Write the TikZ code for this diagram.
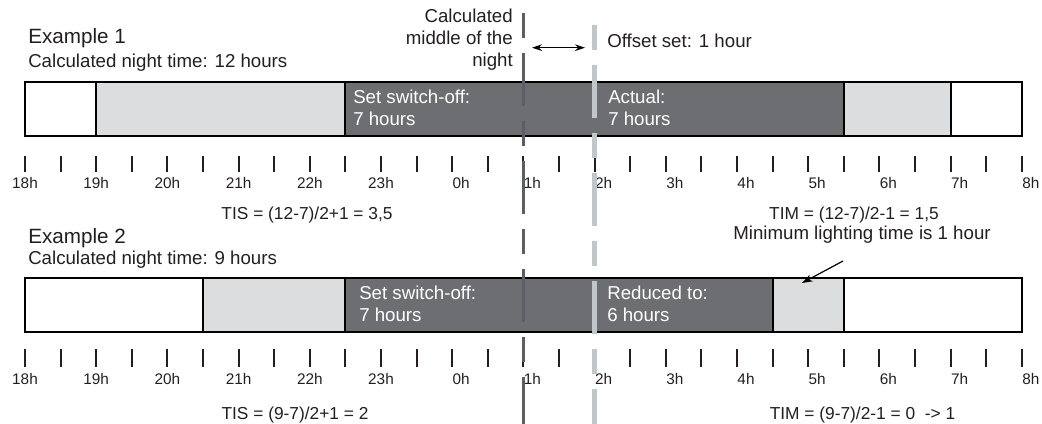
\documentclass[tikz,border=0pt]{standalone}
\usepackage{fontspec}
\setmainfont{Liberation Sans}
\usetikzlibrary{arrows.meta}
\definecolor{barDark}{RGB}{109,110,114}
\definecolor{barLight}{RGB}{220,221,223}
\definecolor{lineMid}{RGB}{92,93,102}
\definecolor{lineOff}{RGB}{192,199,202}
\definecolor{ink}{RGB}{35,31,32}
\tikzset{
  txt/.style={inner sep=0pt, text=ink, font=\fontsize{14}{16.5}\selectfont},
  bigtxt/.style={inner sep=0pt, text=ink, anchor=west, font=\fontsize{15.5}{18}\selectfont},
  intxt/.style={inner sep=0pt, text=white, align=left, anchor=west, font=\fontsize{14}{16.7}\selectfont},
  hourlab/.style={inner sep=0pt, text=ink, font=\fontsize{11.5}{13}\selectfont},
  formula/.style={inner sep=0pt, text=ink, font=\fontsize{13}{15}\selectfont},
  seg/.style={draw=black, line width=1.5pt},
  tickmark/.style={draw=ink, line width=1.4pt},
  dashpat/.style={dash pattern=on 18.75pt off 11.25pt on 39.75pt off 11.25pt},
}

\begin{document}
\begin{tikzpicture}[x=0.75pt, y=-0.75pt]
  \useasboundingbox (0,0) rectangle (1042,424);

  \begin{scope}[shift={(25,0)}, x=53.4pt]
    \foreach \a/\b/\c in {0/1/white, 1/4.5/barLight, 4.5/11.5/barDark, 11.5/13/barLight, 13/14/white}
      \draw[seg, fill=\c] (\a,82) rectangle (\b,136);
    \foreach \a/\b/\c in {0/2.5/white, 2.5/4.5/barLight, 4.5/10.5/barDark, 10.5/11.5/barLight, 11.5/14/white}
      \draw[seg, fill=\c] (\a,278) rectangle (\b,332);

    \foreach \i in {0,...,28} {
      \draw[tickmark] (\i/2,156) -- (\i/2,172);
      \draw[tickmark] (\i/2,349) -- (\i/2,367);
    }
    \foreach \i in {0,...,14} {
      \pgfmathtruncatemacro\hr{mod(18+\i,24)}
      \pgfmathsetmacro\dx{\hr<10 ? 6.75 : 0}
      \node[hourlab, xshift=\dx pt] (hourA\i) at (\i,183) {\hr h};
      \node[hourlab, xshift=\dx pt] (hourB\i) at (\i,379) {\hr h};
    }

    \draw[lineMid, line width=2pt, dashpat] (7,12.7) -- (7,424);
    \draw[lineOff, line width=3.2pt, dashpat] (8,25) -- (8,424);
  \end{scope}

  \node[bigtxt] (exOne) at (28,38) {Example 1};
  \node[txt, anchor=west] (nightOne) at (28,63) {Calculated night time: 12 hours};
  \node[txt, align=right, anchor=east] (middle) at (513,40) {Calculated\\middle of the\\night};
  \node[txt, anchor=west] (offset) at (607,41) {Offset set: 1 hour};
  \coordinate (offA) at (532,47.7);
  \coordinate (offB) at (585,47.7);
  \draw[{Stealth[length=7.5pt,width=5pt]}-{Stealth[length=7.5pt,width=5pt]}, line width=0.9pt] (offA) -- (offB);

  \node[intxt] (switchOne) at (353,107.5) {Set switch-off:\\7 hours};
  \node[intxt] (actual) at (608,107.5) {Actual:\\7 hours};

  \node[formula] (tisOne) at (307,215) {TIS = (12-7)/2+1 = 3,5};
  \node[formula] (timOne) at (854,215) {TIM = (12-7)/2-1 = 1,5};

  \node[bigtxt] (exTwo) at (28,238) {Example 2};
  \node[txt, anchor=west] (nightTwo) at (28,260) {Calculated night time: 9 hours};
  \node[txt] (minimum) at (862,235) {Minimum lighting time is 1 hour};
  \coordinate (minA) at (843,261);
  \coordinate (minB) at (802,283);
  \draw[-{Stealth[length=8pt,width=5.5pt]}, line width=0.9pt] (minA) -- (minB);

  \node[intxt] (switchTwo) at (359,304) {Set switch-off:\\7 hours};
  \node[intxt] (reduced) at (607,304) {Reduced to:\\6 hours};

  \node[formula] (tisTwo) at (295,415) {TIS = (9-7)/2+1 = 2};
  \node[formula] (timTwo) at (862.5,415) {TIM = (9-7)/2-1 = 0 \ -> 1};
\end{tikzpicture}
\end{document}
